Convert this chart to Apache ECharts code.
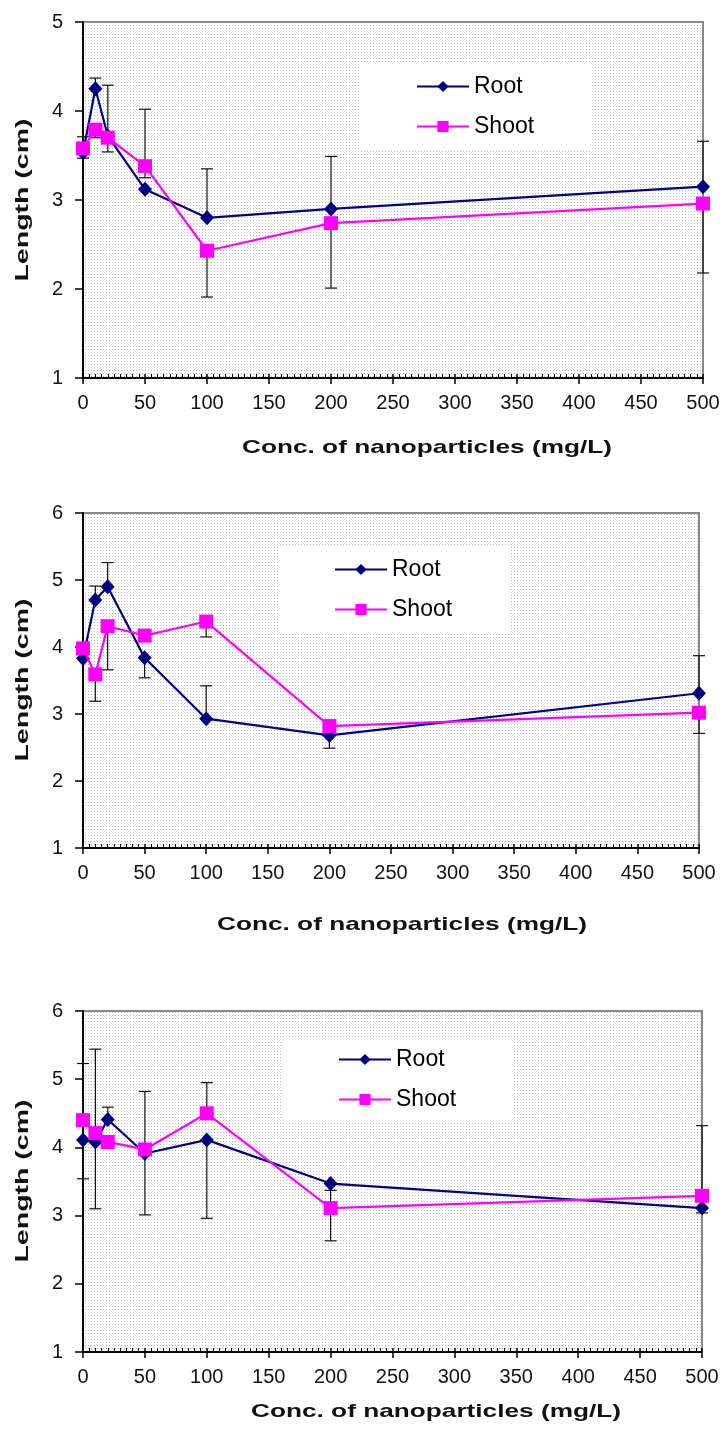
<!DOCTYPE html>
<html>
<head>
<meta charset="utf-8">
<script src="https://cdn.jsdelivr.net/npm/echarts@6/dist/echarts.min.js"></script>
<style>
  html, body { margin: 0; padding: 0; background: #fff; }
  #chart { width: 723px; height: 1431px; }
</style>
</head>
<body>
<div id="chart"></div>
<script>
// concentrations (mg/L), shared by all three panels
const conc = [0, 10, 20, 50, 100, 200, 500];
const seriesNames = ['Root', 'Shoot'];

// panel 1
const root1 = [3.53, 4.25, 3.72, 3.12, 2.80, 2.90, 3.15];
const shoot1 = [3.58, 3.79, 3.70, 3.38, 2.43, 2.74, 2.96];
const rootHi1 = [null, 4.37, null, null, 3.35, 3.49, 3.66];
const rootLo1 = [3.47, null, 3.54, null, null, null, null];
const shootHi1 = [3.71, null, 4.29, 4.02, null, null, null];
const shootLo1 = [null, 3.70, null, 3.25, 1.91, 2.01, 2.18];

// panel 2
const root2 = [3.83, 4.70, 4.90, 3.84, 2.93, 2.68, 3.31];
const shoot2 = [3.98, 3.59, 4.31, 4.17, 4.38, 2.82, 3.02];
const rootHi2 = [null, 4.91, 5.26, null, 3.42, null, 3.87];
const rootLo2 = [null, null, null, 3.54, null, 2.49, null];
const shootHi2 = [null, null, null, null, null, null, null];
const shootLo2 = [null, 3.19, 3.66, null, 4.15, null, 2.71];

// panel 3
const root3 = [4.11, 4.08, 4.41, 3.91, 4.11, 3.47, 3.11];
const shoot3 = [4.40, 4.21, 4.08, 3.97, 4.50, 3.11, 3.29];
const rootHi3 = [null, null, 4.59, null, null, null, null];
const rootLo3 = [3.54, 3.10, null, 3.01, 2.96, null, 3.04];
const shootHi3 = [5.23, 5.44, null, 4.82, 4.95, 3.37, 4.32];
const shootLo3 = [null, null, 3.99, null, null, 2.63, null];

const xTitle = 'Conc. of nanoparticles (mg/L)';
const yTitle = 'Length (cm)';

const FONT = '"Liberation Sans", Arial, sans-serif';

// dotted fill of the plot area
const tile = document.createElement('canvas');
tile.width = 3;
tile.height = 3;
const tctx = tile.getContext('2d');
tctx.fillStyle = '#ffffff';
tctx.fillRect(0, 0, 3, 3);
tctx.fillStyle = '#bdbdbd';
tctx.fillRect(1, 1, 1, 1);

const panels = [
    {root: root1, shoot: shoot1, rootHi: rootHi1, rootLo: rootLo1, shootHi: shootHi1, shootLo: shootLo1,
     grid: {left: 83, top: 22, width: 620, height: 356}, yMax: 5,
     legend: {left: 360, top: 64}, xt: [427, 448], yt: [23, 200]},
    {root: root2, shoot: shoot2, rootHi: rootHi2, rootLo: rootLo2, shootHi: shootHi2, shootLo: shootLo2,
     grid: {left: 83, top: 513, width: 616, height: 335}, yMax: 6,
     legend: {left: 278, top: 547}, xt: [402, 925], yt: [23, 680]},
    {root: root3, shoot: shoot3, rootHi: rootHi3, rootLo: rootLo3, shootHi: shootHi3, shootLo: shootLo3,
     grid: {left: 83, top: 1011, width: 619, height: 341}, yMax: 6,
     legend: {left: 282, top: 1037}, xt: [436, 1412], yt: [23, 1181]}
];

// one-sided error bars: [x, from, to], cap drawn at "to"
function errBars(p) {
    const out = [];
    conc.forEach((c, i) => {
        if (p.rootHi[i] != null) out.push([c, p.root[i], p.rootHi[i]]);
        if (p.rootLo[i] != null) out.push([c, p.root[i], p.rootLo[i]]);
        if (p.shootHi[i] != null) out.push([c, p.shoot[i], p.shootHi[i]]);
        if (p.shootLo[i] != null) out.push([c, p.shoot[i], p.shootLo[i]]);
    });
    return out;
}

function renderErr(params, api) {
    const a = api.coord([api.value(0), api.value(1)]);
    const b = api.coord([api.value(0), api.value(2)]);
    const st = {stroke: '#111', lineWidth: 1.2};
    return {
        type: 'group',
        children: [
            {type: 'line', shape: {x1: a[0], y1: a[1], x2: b[0], y2: b[1]}, style: st},
            {type: 'line', shape: {x1: b[0] - 6, y1: b[1], x2: b[0] + 6, y2: b[1]}, style: st}
        ]
    };
}

const grid = [], xAxis = [], yAxis = [], series = [], legend = [], graphic = [];

panels.forEach((p, k) => {
    grid.push(Object.assign({
        show: true,
        backgroundColor: {image: tile, repeat: 'repeat'},
        borderColor: '#8a8a8a',
        borderWidth: 2
    }, p.grid));

    // main x axis: labels and outward major ticks
    xAxis.push({
        type: 'value', gridIndex: k, position: 'bottom',
        min: 0, max: 500, interval: 50,
        axisLine: {show: true, onZero: false, lineStyle: {color: '#000', width: 2}},
        axisTick: {show: true, length: 6, lineStyle: {color: '#000', width: 1.5}},
        axisLabel: {fontFamily: FONT, fontSize: 20, color: '#111', margin: 15},
        splitLine: {show: false}
    });
    // second x axis on the same line: inward minor ticks every 5
    xAxis.push({
        type: 'value', gridIndex: k, position: 'bottom',
        min: 0, max: 500, interval: 50,
        axisLine: {show: false, onZero: false},
        axisTick: {show: true, inside: true, length: 4, lineStyle: {color: '#000', width: 1.5}},
        minorTick: {show: true, splitNumber: 10, length: 4, lineStyle: {color: '#000', width: 1}},
        axisLabel: {show: false},
        splitLine: {show: false}
    });
    yAxis.push({
        type: 'value', gridIndex: k,
        min: 1, max: p.yMax, interval: 1,
        axisLine: {show: true, lineStyle: {color: '#000', width: 2}},
        axisTick: {show: true, length: 8, lineStyle: {color: '#000', width: 1.5}},
        axisLabel: {fontFamily: FONT, fontSize: 20, color: '#111', margin: 20},
        splitLine: {show: false}
    });

    series.push({
        type: 'custom', name: 'err' + k, xAxisIndex: 2 * k, yAxisIndex: k,
        data: errBars(p), renderItem: renderErr, clip: false, z: 1, silent: true
    });
    series.push({
        type: 'line', name: seriesNames[0], xAxisIndex: 2 * k, yAxisIndex: k,
        data: conc.map((c, i) => [c, p.root[i]]),
        symbol: 'diamond', symbolSize: [14, 15],
        lineStyle: {color: '#000080', width: 2.2},
        itemStyle: {color: '#000080'},
        clip: false, z: 3
    });
    series.push({
        type: 'line', name: seriesNames[1], xAxisIndex: 2 * k, yAxisIndex: k,
        data: conc.map((c, i) => [c, p.shoot[i]]),
        symbol: 'rect', symbolSize: 14,
        lineStyle: {color: '#ff00ff', width: 2.2},
        itemStyle: {color: '#ff00ff'},
        clip: false, z: 4
    });

    legend.push({
        data: seriesNames,
        orient: 'vertical',
        left: p.legend.left, top: p.legend.top,
        backgroundColor: '#ffffff',
        padding: [11, 57, 11, 56],
        itemWidth: 52, itemHeight: 14, itemGap: 17,
        textStyle: {fontFamily: FONT, fontSize: 23, color: '#000'}
    });

    // axis titles (the reference draws them stretched along the reading direction)
    graphic.push({
        type: 'text', x: p.xt[0], y: p.xt[1], scaleX: 1.38,
        style: {text: xTitle, fontFamily: FONT, fontSize: 19, fontWeight: 'bold',
                fill: '#111', align: 'center', verticalAlign: 'middle'}
    });
    graphic.push({
        type: 'text', x: p.yt[0], y: p.yt[1], rotation: Math.PI / 2, scaleX: 1.5,
        style: {text: yTitle, fontFamily: FONT, fontSize: 19, fontWeight: 'bold',
                fill: '#111', align: 'center', verticalAlign: 'middle'}
    });
});

const chart = echarts.init(document.getElementById('chart'), null, {renderer: 'canvas'});
chart.setOption({
    backgroundColor: '#ffffff',
    animation: false,
    grid, xAxis, yAxis, series, legend, graphic
});
</script>
</body>
</html>
